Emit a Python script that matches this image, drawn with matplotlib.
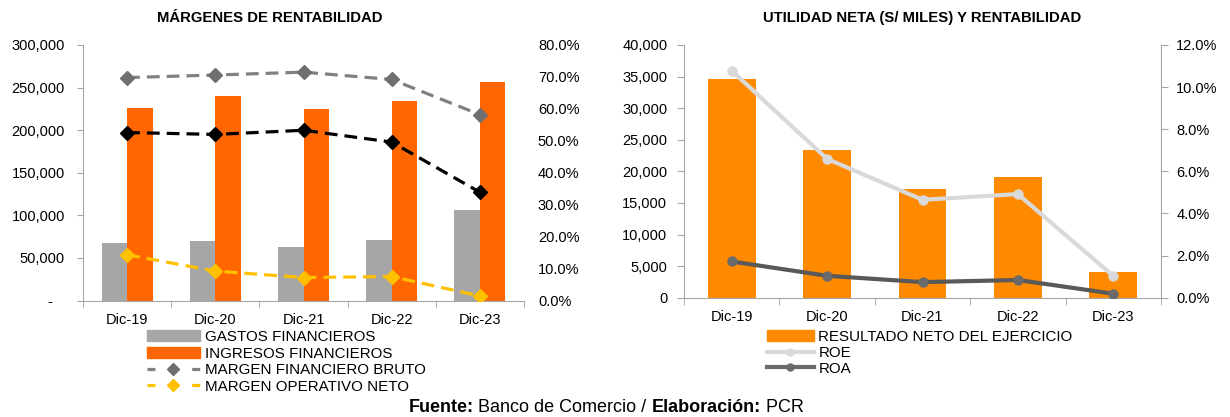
import matplotlib
matplotlib.use("Agg")
import matplotlib.pyplot as plt
from matplotlib.lines import Line2D
from matplotlib.patches import Patch
from matplotlib.ticker import FuncFormatter

plt.rcParams['font.family'] = ['Liberation Sans', 'DejaVu Sans']

# data
years = ['Dic-19', 'Dic-20', 'Dic-21', 'Dic-22', 'Dic-23']
gastos = [68000, 70000, 63000, 71000, 106000]
ingresos = [226000, 240000, 225000, 234000, 256500]
margen_bruto = [0.698, 0.706, 0.715, 0.692, 0.582]
margen_black = [0.526, 0.520, 0.533, 0.496, 0.339]
margen_neto = [0.143, 0.092, 0.072, 0.075, 0.014]

utilidad = [34600, 23400, 17200, 19100, 4100]
roe = [0.1078, 0.0659, 0.0465, 0.0492, 0.0103]
roa = [0.0172, 0.0104, 0.0074, 0.0084, 0.0019]

GRAY_BAR = '#A6A6A6'
ORANGE = '#FF6600'
ORANGE2 = '#FF8A00'
SPINE = '#A6A6A6'
FS = 10.5
LFS = 10.9

fig = plt.figure(figsize=(12.3, 4.17), dpi=100)
x = list(range(len(years)))


def cat_axis(ax):
    ax.set_xlim(-0.5, 4.5)
    ax.set_xticks(x)
    ax.set_xticklabels(years, fontsize=FS)
    ax.set_xticks([i - 0.5 for i in range(6)], minor=True)
    ax.tick_params(axis='x', which='major', length=0, pad=9)
    ax.tick_params(axis='x', which='minor', length=5, color=SPINE, direction='out')
    for s in ['top', 'right']:
        ax.spines[s].set_visible(False)
    ax.spines['left'].set_color(SPINE)
    ax.spines['bottom'].set_color(SPINE)


# ---------------- left chart
ax1 = fig.add_axes([83 / 1230, 1 - 300.5 / 417, 441 / 1230, 255.5 / 417])
w = 0.29
ax1.bar([i - w / 2 for i in x], gastos, w, color=GRAY_BAR, zorder=2)
ax1.bar([i + w / 2 for i in x], ingresos, w, color=ORANGE, zorder=2)
cat_axis(ax1)
ax1.set_ylim(0, 300000)
ax1.set_yticks(range(0, 300001, 50000))
ax1.yaxis.set_major_formatter(FuncFormatter(lambda v, p: '-   ' if v == 0 else f'{v:,.0f}'))
ax1.tick_params(axis='y', length=4, color=SPINE, pad=9, labelsize=FS)

ax1b = ax1.twinx()
ax1b.set_ylim(0, 0.8)
ax1b.set_yticks([i / 10 for i in range(9)])
ax1b.yaxis.set_major_formatter(FuncFormatter(lambda v, p: f'{v * 100:.1f}%'))
ax1b.tick_params(axis='y', length=0, pad=10, labelsize=FS)
for s in ax1b.spines.values():
    s.set_visible(False)
ax1b.plot(x, margen_bruto, color='#808080', lw=2.3, dashes=(4, 2.2),
          marker='D', ms=7, mfc='#6F6F6F', mec='#6F6F6F')
ax1b.plot(x, margen_black, color='black', lw=2.3, dashes=(4, 2.2),
          marker='D', ms=7, mfc='black', mec='black')
ax1b.plot(x, margen_neto, color='#FFC000', lw=2.3, dashes=(4, 2.2),
          marker='D', ms=7, mfc='#FFC000', mec='#FFC000')

fig.text(270 / 1230, 1 - 18 / 417, 'MÁRGENES DE RENTABILIDAD', ha='center', va='center',
         fontsize=10.7, fontweight='bold')

h1 = [Patch(color=GRAY_BAR), Patch(color=ORANGE),
      Line2D([], [], color='#808080', lw=2.3, dashes=(2.5, 4.5), marker='D', ms=6,
             mfc='#6F6F6F', mec='#6F6F6F'),
      Line2D([], [], color='#FFC000', lw=2.3, dashes=(2.5, 4.5), marker='D', ms=6,
             mfc='#FFC000', mec='#FFC000')]
fig.legend(h1, ['GASTOS FINANCIEROS', 'INGRESOS FINANCIEROS',
                'MARGEN FINANCIERO BRUTO', 'MARGEN OPERATIVO NETO'],
           loc='upper left', bbox_to_anchor=(147 / 1230, 1 - 330 / 417),
           frameon=False, borderpad=0, borderaxespad=0, handlelength=3.5,
           handletextpad=0.3, labelspacing=0.17, fontsize=LFS)

# ---------------- right chart
ax2 = fig.add_axes([684 / 1230, 1 - 297.7 / 417, 477 / 1230, 252.7 / 417])
ax2.bar(x, utilidad, 0.5, color=ORANGE2, zorder=2)
cat_axis(ax2)
ax2.set_ylim(0, 40000)
ax2.set_yticks(range(0, 40001, 5000))
ax2.yaxis.set_major_formatter(FuncFormatter(lambda v, p: f'{v:,.0f}'))
ax2.tick_params(axis='y', length=5, color=SPINE, pad=7, labelsize=FS)

ax2b = ax2.twinx()
ax2b.set_ylim(0, 0.12)
ax2b.set_yticks([i / 50 for i in range(7)])
ax2b.yaxis.set_major_formatter(FuncFormatter(lambda v, p: f'{v * 100:.1f}%'))
ax2b.tick_params(axis='y', length=5, color=SPINE, pad=6, labelsize=FS)
for s in ['top', 'left', 'bottom']:
    ax2b.spines[s].set_visible(False)
ax2b.spines['right'].set_color(SPINE)
ax2b.plot(x, roe, color='#D9D9D9', lw=3, marker='o', ms=6.5, mfc='#D9D9D9', mec='#D9D9D9')
ax2b.plot(x, roa, color='#595959', lw=3, marker='o', ms=6.5, mfc='#6A6A6A', mec='#6A6A6A')

fig.text(922 / 1230, 1 - 18 / 417, 'UTILIDAD NETA (S/ MILES) Y RENTABILIDAD', ha='center',
         va='center', fontsize=10.7, fontweight='bold')

h2 = [Patch(color=ORANGE2),
      Line2D([], [], color='#D9D9D9', lw=3, marker='o', ms=5),
      Line2D([], [], color='#6A6A6A', lw=3, marker='o', ms=5)]
fig.legend(h2, ['RESULTADO NETO DEL EJERCICIO', 'ROE', 'ROA'],
           loc='upper left', bbox_to_anchor=(767 / 1230, 1 - 330 / 417),
           frameon=False, borderpad=0, borderaxespad=0, handlelength=3.1,
           handletextpad=0.3, labelspacing=0.12, fontsize=LFS)

# ---------------- footer with mixed bold / regular text
parts = [('Fuente:', 'bold'), (' Banco de Comercio / ', 'normal'),
         ('Elaboración:', 'bold'), (' PCR', 'normal')]
fig.canvas.draw()
renderer = fig.canvas.get_renderer()
texts = []
total = 0
for s, wgt in parts:
    t = fig.text(0, 1 - 408 / 417, s, fontsize=13, fontweight=wgt, va='center', ha='left')
    wpx = t.get_window_extent(renderer).width
    texts.append((t, wpx))
    total += wpx
xpos = 606 - total / 2
for t, wpx in texts:
    t.set_x(xpos / 1230)
    xpos += wpx

fig.savefig('out.png', dpi=100)
